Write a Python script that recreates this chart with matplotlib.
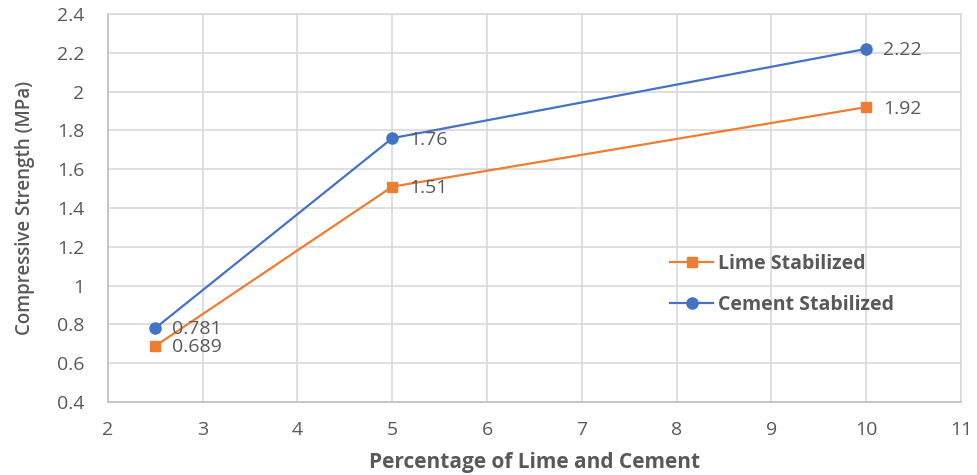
import matplotlib.pyplot as plt
from matplotlib.ticker import MultipleLocator

plt.rcParams['font.family'] = ['Open Sans', 'DejaVu Sans']

x_vals = [2.5, 5, 10]
lime = [0.689, 1.51, 1.92]
cement = [0.781, 1.76, 2.22]
lime_labels = ["0.689", "1.51", "1.92"]
cement_labels = ["0.781", "1.76", "2.22"]

text_color = "#595959"
grid_color = "#d9d9d9"

fig = plt.figure(figsize=(9.77, 4.75), dpi=100)
ax = fig.add_axes([0.1105, 0.1537, 0.873, 0.8168])

ax.plot(x_vals, lime, color="#ed7d31", lw=1.6, marker="s", ms=6.5, label="Lime Stabilized", zorder=3)
ax.plot(x_vals, cement, color="#4472c4", lw=1.6, marker="o", ms=8, label="Cement Stabilized", zorder=3)

for x, y, t in zip(x_vals, lime, lime_labels):
    ax.annotate(t, (x, y), xytext=(12, -1), textcoords="offset points",
                va="center", ha="left", fontsize=14, color=text_color)
for x, y, t in zip(x_vals, cement, cement_labels):
    ax.annotate(t, (x, y), xytext=(12, -1), textcoords="offset points",
                va="center", ha="left", fontsize=14, color=text_color)

ax.set_xlim(2, 11)
ax.set_ylim(0.4, 2.4)
ax.xaxis.set_major_locator(MultipleLocator(1))
ax.yaxis.set_major_locator(MultipleLocator(0.2))
ax.yaxis.set_major_formatter(plt.FuncFormatter(lambda v, p: f"{v:.1f}".rstrip("0").rstrip(".")))

ax.grid(True, color=grid_color, lw=1.2)
ax.set_axisbelow(True)
for s in ax.spines.values():
    s.set_color(grid_color)
    s.set_linewidth(1.2)
ax.spines["left"].set_color("#bfbfbf")
ax.spines["bottom"].set_color("#bfbfbf")

ax.tick_params(length=0, labelsize=14, labelcolor=text_color)
ax.tick_params(axis="x", pad=14)
ax.tick_params(axis="y", pad=17)
ax.set_xlabel("Percentage of Lime and Cement", fontsize=15, fontweight="bold", color=text_color, labelpad=9)
ax.set_ylabel("Compressive Strength (MPa)", fontsize=13.5, fontweight="semibold", color=text_color, labelpad=16)

ax.legend(loc="center left", bbox_to_anchor=(0.648, 0.303), frameon=False, borderpad=0,
          prop={"size": 14, "weight": "bold"}, labelcolor=text_color,
          handlelength=2.2, labelspacing=1.05, handletextpad=0.25)

fig.savefig("out.png", dpi=100)
